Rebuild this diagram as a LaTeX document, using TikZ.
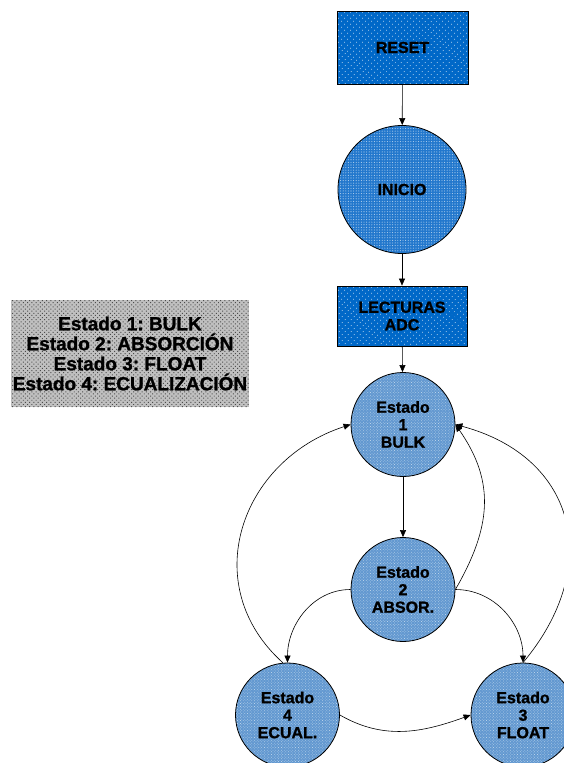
\documentclass[tikz,border=0pt]{standalone}
\usepackage{fontspec}
\setmainfont[BoldFeatures={FakeBold=1.2}]{Liberation Sans}
\usetikzlibrary{patterns.meta,arrows.meta}
\definecolor{boxblue}{RGB}{0,104,200}
\definecolor{iniblue}{RGB}{35,120,205}
\definecolor{stblue}{RGB}{98,152,208}
\definecolor{leggray}{RGB}{192,192,192}
\tikzset{
  txt/.style={font=\fontsize{16}{17.5}\selectfont\bfseries, align=center, text=black},
  blockbox/.style={txt, draw=black, line width=0.8pt, rectangle,
    preaction={fill=boxblue}, pattern={Dots[radius=0.55pt, distance=4pt, angle=45]},
    pattern color=white!85!boxblue},
  startcircle/.style={txt, draw=black, line width=0.8pt, circle, minimum size=128pt, inner sep=0pt,
    preaction={fill=iniblue}, pattern={Dots[radius=0.55pt, distance=2.6pt]},
    pattern color=white!65!iniblue},
  statecircle/.style={txt, draw=black, line width=0.8pt, circle, minimum size=104pt, inner sep=0pt,
    preaction={fill=stblue}, pattern={Dots[radius=0.5pt, distance=2pt, angle=45]},
    pattern color=white!55!stblue},
  legendbox/.style={rectangle, inner sep=0pt,
    preaction={fill=leggray}, pattern={Dots[radius=0.7pt, distance=3pt, angle=45]},
    pattern color=black!70,
    font=\fontsize{19}{20}\selectfont\bfseries, align=center, text=black},
  link/.style={draw=black, line width=0.6pt, -{Triangle[length=7pt, width=6pt]}}
}
\frenchspacing
\begin{document}
\begin{tikzpicture}[x=1pt, y=1pt]
  \useasboundingbox (0,0) rectangle (564,-763);
  \clip (0,0) rectangle (564,-763);

  % main flow
  \node[blockbox, minimum width=131pt, minimum height=73pt] (reset) at (402.5,-47.5) {RESET};
  \node[startcircle] (inicio) at (402,-189.5) {INICIO};
  \node[blockbox, minimum width=130pt, minimum height=60pt] (adc) at (402,-316) {LECTURAS\\ADC};

  % states
  \node[statecircle] (e1) at (403,-424.5) {Estado\\1\\BULK};
  \node[statecircle] (e2) at (403,-589.5) {Estado\\2\\ABSOR.};
  \node[statecircle] (e4) at (287.5,-715) {Estado\\4\\ECUAL.};
  \node[statecircle] (e3) at (523,-715) {Estado\\3\\FLOAT};

  % legend
  \node[legendbox, minimum width=238pt, minimum height=107pt] (legend) at (130,-353.5)
    {Estado 1: BULK\\Estado 2: ABSORCIÓN\\Estado 3: FLOAT\\Estado 4: ECUALIZACIÓN};

  % connectors
  \draw[link] (reset) -- (inicio);
  \draw[link] (inicio) -- (adc);
  \draw[link] (adc) -- (e1);
  \draw[link] (e1) -- (e2);
  \draw[link] (e2.west) to[out=180, in=90] (e4.north);
  \draw[link] (e2.east) to[out=0, in=90] (e3.north);
  \draw[link] (e4.east) to[out=-30, in=200] (e3.west);
  \draw[link] (e4.95) to[out=138, in=198, looseness=1.2] (e1.west);
  \draw[link] (e2.east) to[out=60, in=-55, looseness=1.1] (e1.east);
  \draw[link] (e3.north) to[out=50, in=-15, looseness=1.3] (e1.east);
\end{tikzpicture}
\end{document}
